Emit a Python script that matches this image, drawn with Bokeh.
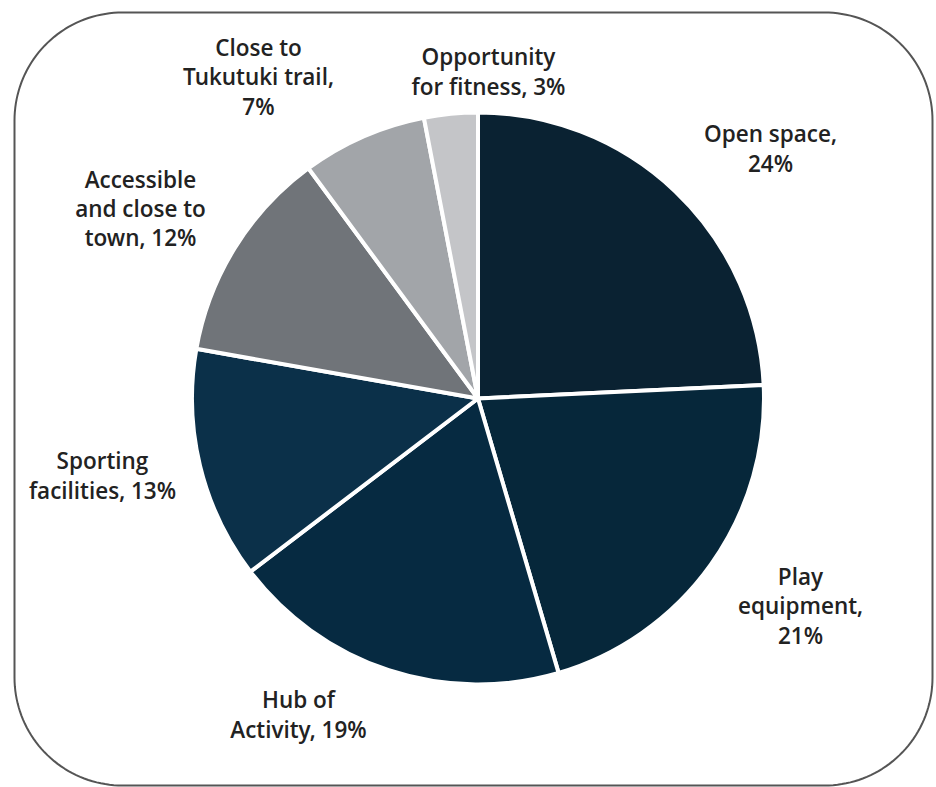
import numpy as np
from bokeh.plotting import figure
from bokeh.models import ColumnDataSource, Range1d
from bokeh.core.properties import value
from bokeh.embed import file_html
from bokeh.resources import INLINE

# ---- data ----
categories = ["Open space", "Play equipment", "Hub of Activity", "Sporting facilities",
              "Accessible and close to town", "Close to Tukutuki trail", "Opportunity for fitness"]
values = [24, 21, 19, 13, 12, 7, 3]
labels = ["Open space,\n24%", "Play\nequipment,\n21%", "Hub of\nActivity, 19%",
          "Sporting\nfacilities, 13%", "Accessible\nand close to\ntown, 12%",
          "Close to\nTukutuki trail,\n7%", "Opportunity\nfor fitness, 3%"]
colors = ["#0a2232", "#06273a", "#062a41", "#0b3049", "#707479", "#a2a5a9", "#c4c5c8"]

# ---- layout (page pixel coordinates) ----
W, H = 936, 787
def fx(x): return x
def fy(y): return H - y

cx, cy, R = 477.5, 398, 286
label_pos = [(770, 148), (800, 605.5), (298, 714), (102, 475), (140, 208), (258, 76.5), (488, 71)]

p = figure(width=W, height=H, output_backend="svg", toolbar_location=None,
           x_range=Range1d(0, W), y_range=Range1d(0, H), min_border=0,
           outline_line_color=None)
p.axis.visible = False
p.grid.visible = False
p.background_fill_color = "white"
p.border_fill_color = "white"

# rounded border
x0, x1, y0, y1, r = fx(14), fx(932), fy(785), fy(12), 108
pts = []
for (ccx, ccy, a0) in [(x1 - r, y1 - r, 0), (x0 + r, y1 - r, 90), (x0 + r, y0 + r, 180), (x1 - r, y0 + r, 270)]:
    t = np.radians(np.linspace(a0, a0 + 90, 40))
    pts += list(zip(ccx + r * np.cos(t), ccy + r * np.sin(t)))
pts.append(pts[0])
p.line([q[0] for q in pts], [q[1] for q in pts], line_color="#555555", line_width=2)

# wedges
total = sum(values)
cum = np.concatenate([[0], np.cumsum(values)])
start = np.pi / 2 - cum[:-1] / total * 2 * np.pi
end = np.pi / 2 - cum[1:] / total * 2 * np.pi
src = ColumnDataSource(dict(cat=categories, val=values, start=start, end=end, color=colors))
p.wedge(x=fx(cx), y=fy(cy), radius=R, radius_units="screen", start_angle="start", end_angle="end",
        direction="clock", fill_color="color", line_color="white", line_width=4, source=src)

lsrc = ColumnDataSource(dict(x=[fx(a) for a, b in label_pos], y=[fy(b) for a, b in label_pos], text=labels))
p.text(x="x", y="y", text="text", source=lsrc, text_align="center", text_baseline="middle",
       text_font=value("Open Sans SemiBold, Open Sans Semibold, Open Sans"), text_font_size="22.5px",
       text_color="#222222", text_line_height=0.95)

open("out.html", "w").write(file_html(p, INLINE))
